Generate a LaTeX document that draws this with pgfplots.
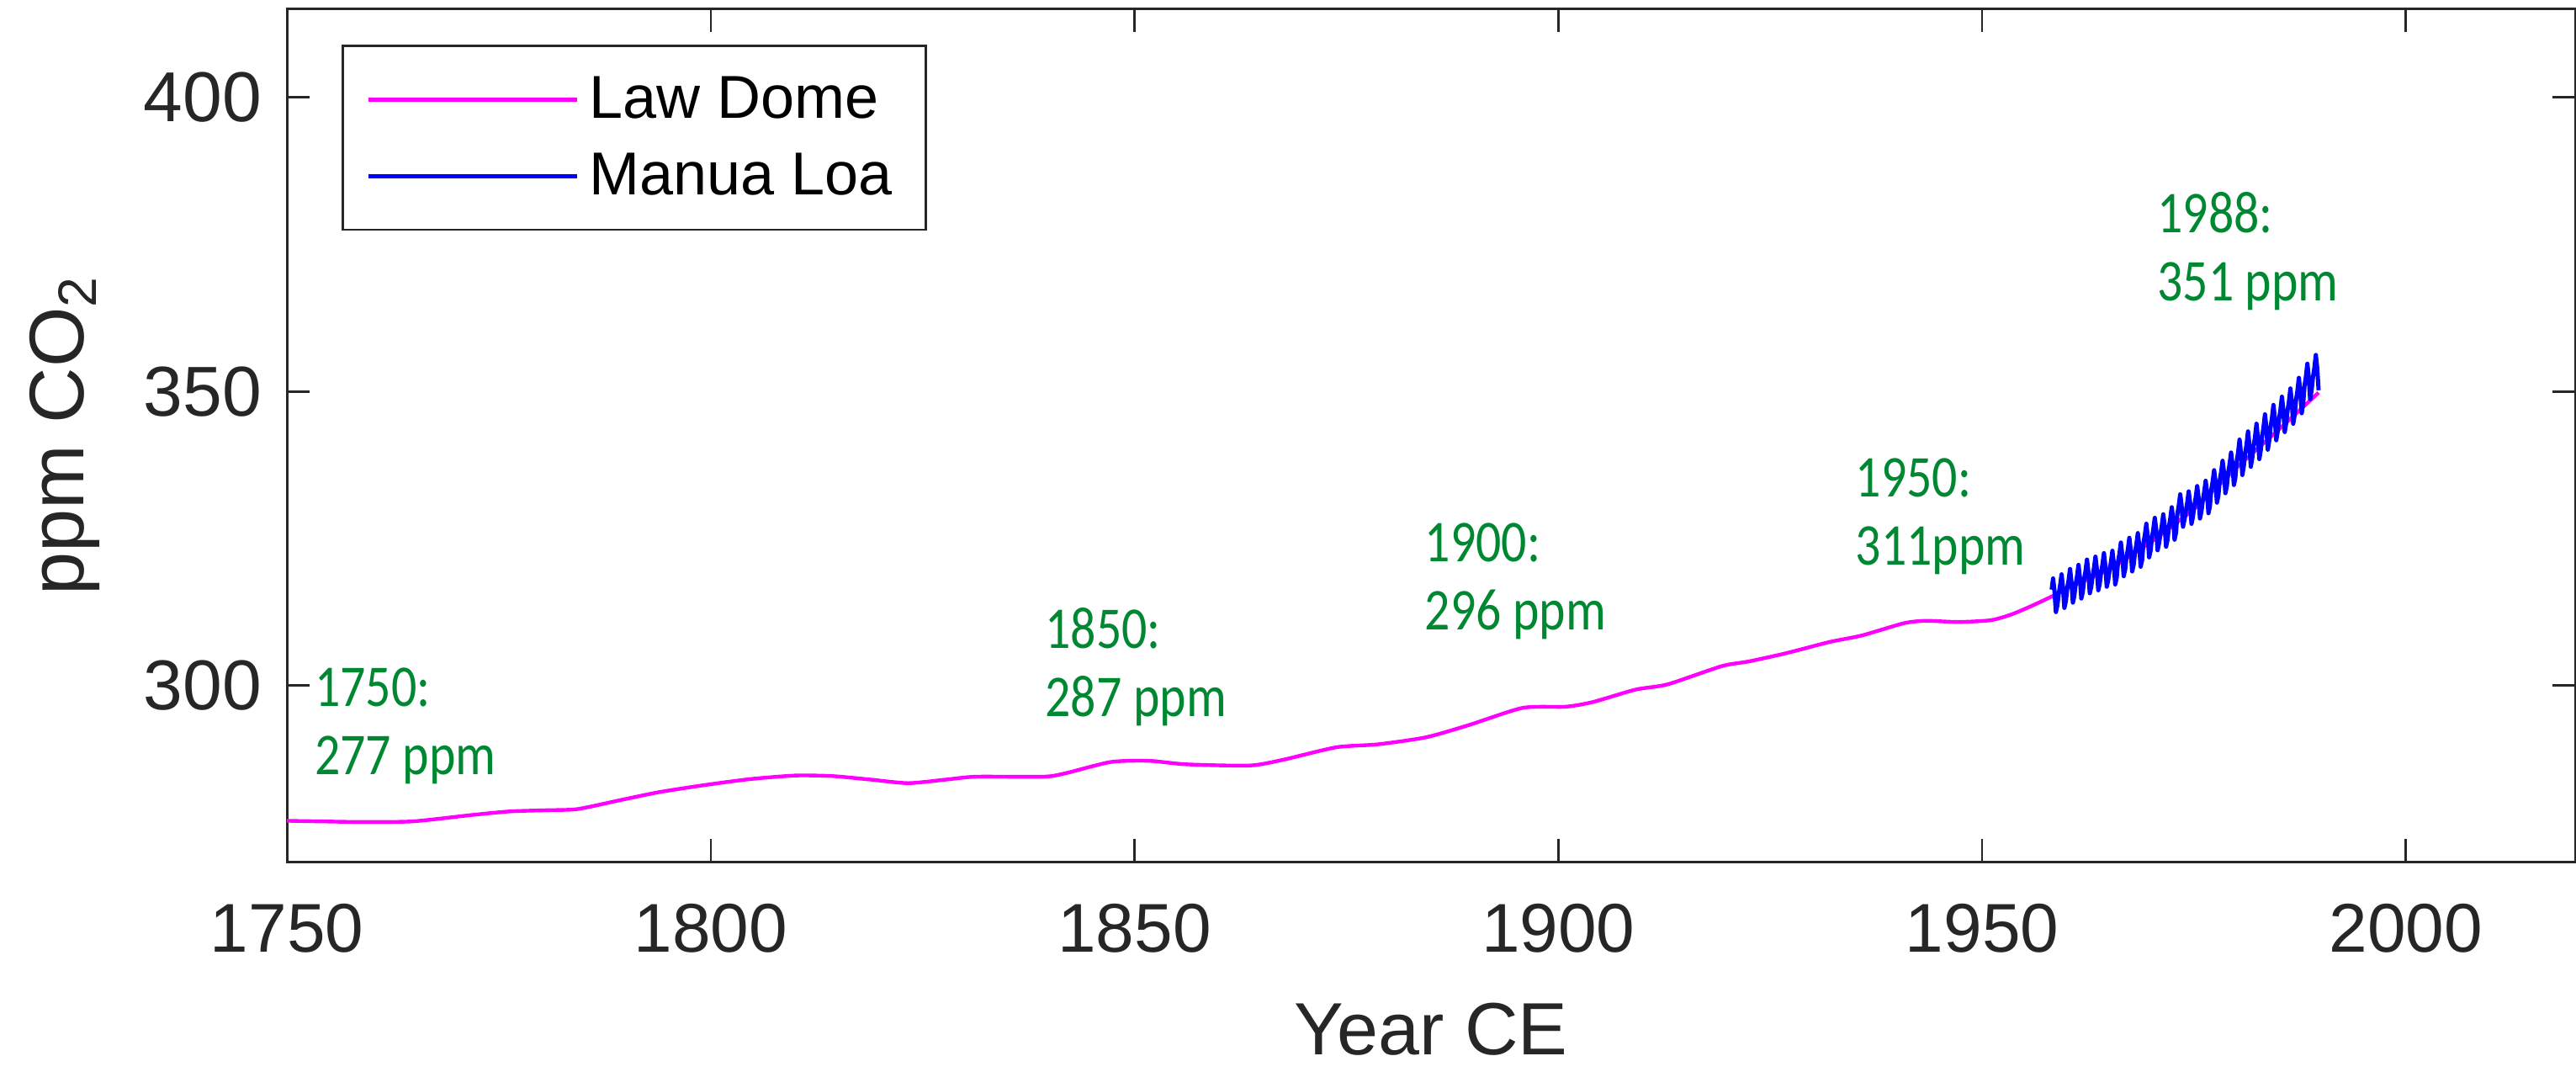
\documentclass[border=0pt]{standalone}
\usepackage{fontspec}
\setmainfont{Liberation Sans}
\newfontfamily\calib[FakeStretch=0.85]{Carlito}
\usepackage{pgfplots}
\pgfplotsset{compat=1.18}
\definecolor{axgray}{HTML}{262626}
\definecolor{anngreen}{RGB}{0,135,50}
\definecolor{lawmag}{RGB}{255,0,255}
\definecolor{mlblue}{RGB}{0,0,255}

\begin{document}
\begin{tikzpicture}
\path[use as bounding box] (-85.3pt,-62.2pt) rectangle (680.2pt,256.1pt);
\begin{axis}[
  at={(0,0)}, anchor=south west,
  width=680pt, height=253.4pt, scale only axis,
  xmin=1750, xmax=2020, ymin=270, ymax=415,
  xtick={1750,1800,1850,1900,1950,2000}, ytick={300,350,400},
  tick align=inside, major tick length=6.75pt,
  axis line style={axgray, line width=0.7pt},
  every tick/.style={axgray, line width=0.7pt},
  tick label style={text=axgray},
  /pgf/number format/assume math mode=true,
  /pgf/number format/1000 sep={},
  xticklabel style={font=\fontsize{20.5}{24}\selectfont, yshift=-9pt},
  yticklabel style={font=\fontsize{21}{25}\selectfont, xshift=-4pt},
  xlabel={Year CE}, ylabel={ppm CO\textsubscript{2}},
  label style={text=axgray},
  xlabel style={font=\fontsize{22}{26}\selectfont, at={(axis description cs:0.5,-0.196)}, anchor=center},
  ylabel style={font=\fontsize{23}{27}\selectfont, at={(axis description cs:-0.0971,0.5)}, anchor=center},
  legend style={at={(rel axis cs:0.0238,0.958)}, anchor=north west,
    draw=axgray, line width=0.7pt, fill=white,
    font=\fontsize{18}{21.6}\selectfont, text=black,
    inner xsep=7pt, inner ysep=6pt, row sep=2.8pt,
    nodes={inner sep=3pt, text depth=0.15em},
    /tikz/every even column/.append style={column sep=3pt}},
  legend cell align=left,
  legend image code/.code={\draw[#1] (0pt,0pt) -- (62pt,0pt);},
  legend entries={Law Dome, Manua Loa},
]
\addplot[color=lawmag, line width=1.1pt, line join=round, smooth, tension=0.4] coordinates {
(1750,277.0) (1754,276.9) (1758.6,276.8) (1764.8,276.9) (1771.9,278.0) (1776.3,278.6)
(1780.7,278.8) (1784.3,279.0) (1789.6,280.6) (1794,281.9) (1799.4,283.1) (1804.7,284.1)
(1810,284.7) (1814.4,284.6) (1818.9,284.0) (1823.3,283.4) (1827.7,284.0) (1831.3,284.5)
(1839.3,284.5) (1841.9,285.1) (1847.2,287.0) (1851.7,287.2) (1856.1,286.6) (1863.6,286.4)
(1867.6,287.4) (1873.8,289.5) (1878.7,290.0) (1884.4,291.2) (1889.5,293.3) (1895.8,296.2)
(1900.9,296.4) (1904.1,297.2) (1909.1,299.3) (1912.9,300.2) (1919.3,303.3) (1922.5,304.1)
(1926.9,305.5) (1932,307.4) (1935.8,308.5) (1940.8,310.6) (1943.4,311.0) (1947.2,310.8)
(1951,311.1) (1953.5,312.1) (1956.1,313.7) (1958.6,315.4) (1960,316.5) (1965,319.8)
(1970,324.5) (1975,330.0) (1980,337.0) (1985,343.5) (1989.7,349.8)
};
\addplot[color=mlblue, line width=1.25pt, line join=round] coordinates {
(1958.21,316.3) (1958.38,318.2) (1958.54,316.1) (1958.71,312.5) (1958.88,313.6)
(1959.04,315.6) (1959.21,317.0) (1959.38,318.9) (1959.54,316.8) (1959.71,313.2) (1959.88,314.3)
(1960.04,316.5) (1960.21,317.9) (1960.38,319.8) (1960.54,317.7) (1960.71,314.1) (1960.88,315.2)
(1961.04,317.2) (1961.21,318.6) (1961.38,320.5) (1961.54,318.4) (1961.71,314.8) (1961.88,315.9)
(1962.04,318.1) (1962.21,319.5) (1962.38,321.4) (1962.54,319.3) (1962.71,315.7) (1962.88,316.8)
(1963.04,318.6) (1963.21,320.0) (1963.38,321.9) (1963.54,319.8) (1963.71,316.2) (1963.88,317.3)
(1964.04,319.2) (1964.21,320.6) (1964.38,322.5) (1964.54,320.4) (1964.71,316.8) (1964.88,317.9)
(1965.04,319.6) (1965.21,321.0) (1965.38,322.9) (1965.54,320.8) (1965.71,317.2) (1965.88,318.3)
(1966.04,321.0) (1966.21,322.4) (1966.38,324.3) (1966.54,322.2) (1966.71,318.6) (1966.88,319.7)
(1967.04,321.8) (1967.21,323.2) (1967.38,325.1) (1967.54,323.0) (1967.71,319.4) (1967.88,320.5)
(1968.04,322.6) (1968.21,324.0) (1968.38,325.9) (1968.54,323.8) (1968.71,320.2) (1968.88,321.3)
(1969.04,324.2) (1969.21,325.6) (1969.38,327.5) (1969.54,325.4) (1969.71,321.8) (1969.88,322.9)
(1970.04,325.1) (1970.21,326.6) (1970.38,328.5) (1970.54,326.6) (1970.71,323.0) (1970.88,324.2)
(1971.04,325.7) (1971.21,327.2) (1971.38,329.1) (1971.54,327.2) (1971.71,323.6) (1971.88,324.8)
(1972.04,326.9) (1972.21,328.4) (1972.38,330.3) (1972.54,328.4) (1972.71,324.8) (1972.88,326.0)
(1973.04,329.1) (1973.21,330.6) (1973.38,332.5) (1973.54,330.6) (1973.71,327.0) (1973.88,328.2)
(1974.04,329.6) (1974.21,331.1) (1974.38,333.0) (1974.54,331.1) (1974.71,327.5) (1974.88,328.7)
(1975.04,330.5) (1975.21,332.0) (1975.38,333.9) (1975.54,332.0) (1975.71,328.4) (1975.88,329.6)
(1976.04,331.4) (1976.21,332.9) (1976.38,334.8) (1976.54,332.9) (1976.71,329.3) (1976.88,330.5)
(1977.04,333.2) (1977.21,334.7) (1977.38,336.6) (1977.54,334.7) (1977.71,331.1) (1977.88,332.3)
(1978.04,334.8) (1978.21,336.3) (1978.38,338.2) (1978.54,336.3) (1978.71,332.7) (1978.88,333.9)
(1979.04,336.2) (1979.21,337.7) (1979.38,339.6) (1979.54,337.7) (1979.71,334.1) (1979.88,335.3)
(1980.04,338.0) (1980.21,339.6) (1980.38,341.8) (1980.54,339.6) (1980.71,335.8) (1980.88,337.3)
(1981.04,339.4) (1981.21,341.0) (1981.38,343.2) (1981.54,341.0) (1981.71,337.2) (1981.88,338.7)
(1982.04,340.7) (1982.21,342.3) (1982.38,344.5) (1982.54,342.3) (1982.71,338.5) (1982.88,340.0)
(1983.04,342.3) (1983.21,343.9) (1983.38,346.1) (1983.54,343.9) (1983.71,340.1) (1983.88,341.6)
(1984.04,343.9) (1984.21,345.5) (1984.38,347.7) (1984.54,345.5) (1984.71,341.7) (1984.88,343.2)
(1985.04,345.3) (1985.21,346.9) (1985.38,349.1) (1985.54,346.9) (1985.71,343.1) (1985.88,344.6)
(1986.04,346.7) (1986.21,348.3) (1986.38,350.5) (1986.54,348.3) (1986.71,344.5) (1986.88,346.0)
(1987.04,348.5) (1987.21,350.1) (1987.38,352.3) (1987.54,350.1) (1987.71,346.3) (1987.88,347.8)
(1988.04,350.9) (1988.21,352.5) (1988.38,354.7) (1988.54,352.5) (1988.71,348.7) (1988.88,350.2)
(1989.04,352.4) (1989.21,354.0) (1989.38,356.2) (1989.54,354.0) (1989.71,350.2)
};
\begin{scope}[every node/.style={anchor=base west, inner sep=0pt, text=anngreen, font=\calib\fontsize{17.6}{20}\selectfont}]
\node at (axis cs:1753.2,296.44) {1750:};
\node at (axis cs:1753.2,284.9) {277 ppm};
\node at (axis cs:1839.4,306.35) {1850:};
\node at (axis cs:1839.4,294.8) {287 ppm};
\node at (axis cs:1884.2,321.0) {1900:};
\node at (axis cs:1884.2,309.45) {296 ppm};
\node at (axis cs:1935.0,332.0) {1950:};
\node at (axis cs:1935.0,320.45) {311ppm};
\node at (axis cs:1970.6,377.0) {1988:};
\node at (axis cs:1970.6,365.45) {351 ppm};
\end{scope}
\end{axis}
\end{tikzpicture}
\end{document}
